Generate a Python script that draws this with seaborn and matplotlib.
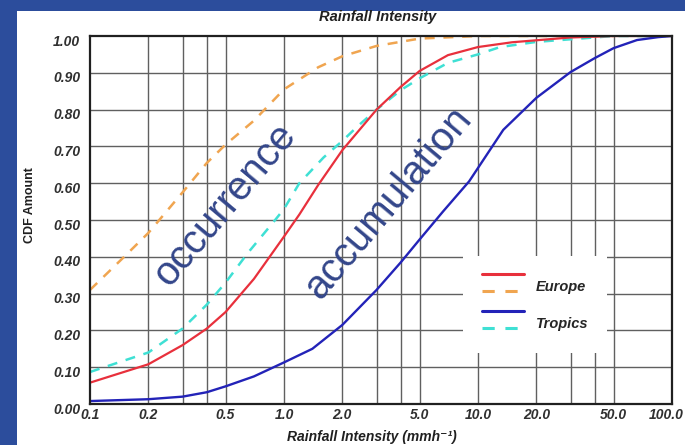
import numpy as np
import pandas as pd
import matplotlib
matplotlib.use("Agg")
import matplotlib.pyplot as plt
import seaborn as sns
from matplotlib.lines import Line2D
from matplotlib.legend_handler import HandlerBase
from matplotlib.patches import Rectangle
from matplotlib.transforms import ScaledTranslation

# ---- data ----
eu_occ_x = [0.1, 0.15, 0.2, 0.3, 0.4, 0.5, 0.7, 1.0, 1.5, 2.0, 3.0, 5.0, 10.0, 50.0]
eu_occ_y = [0.31, 0.40, 0.465, 0.575, 0.655, 0.705, 0.77, 0.855, 0.915, 0.945, 0.973, 0.993, 1.0, 1.0]

eu_acc_x = [0.1, 0.2, 0.3, 0.4, 0.5, 0.7, 1.0, 1.2, 1.5, 2.0, 3.0, 4.0, 5.0, 7.0, 10.0, 15.0, 30.0, 50.0, 100.0]
eu_acc_y = [0.058, 0.108, 0.16, 0.205, 0.25, 0.34, 0.455, 0.515, 0.595, 0.69, 0.80, 0.862, 0.905, 0.948, 0.97, 0.983, 0.996, 1.0, 1.0]

tr_occ_x = [0.1, 0.2, 0.3, 0.4, 0.5, 0.65, 0.9, 1.0, 1.2, 1.6, 2.0, 2.4, 3.0, 4.0, 5.0, 7.0, 10.0, 13.0, 20.0, 50.0, 100.0]
tr_occ_y = [0.087, 0.14, 0.205, 0.27, 0.33, 0.41, 0.50, 0.53, 0.60, 0.67, 0.715, 0.755, 0.80, 0.853, 0.885, 0.927, 0.95, 0.97, 0.984, 1.0, 1.0]

tr_acc_x = [0.1, 0.2, 0.3, 0.4, 0.5, 0.7, 1.0, 1.4, 2.0, 3.0, 4.0, 5.0, 6.6, 9.0, 13.5, 20.0, 30.0, 40.0, 50.0, 66.0, 85.0, 100.0]
tr_acc_y = [0.008, 0.013, 0.02, 0.032, 0.048, 0.075, 0.113, 0.15, 0.215, 0.31, 0.385, 0.447, 0.523, 0.605, 0.745, 0.832, 0.902, 0.94, 0.967, 0.989, 0.997, 1.0]

x_ticks = [0.1, 0.2, 0.5, 1.0, 2.0, 5.0, 10.0, 20.0, 50.0, 100.0]
x_tick_labels = ["0.1", "0.2", "0.5", "1.0", "2.0", "5.0", "10.0", "20.0", "50.0", "100.0"]
x_grid = [0.2, 0.3, 0.4, 0.5, 1, 2, 3, 4, 5, 10, 20, 30, 40, 50]
y_ticks = [0.0, 0.1, 0.2, 0.3, 0.4, 0.5, 0.6, 0.7, 0.8, 0.9, 1.0]
y_tick_labels = ["0.00", "0.10", "0.20", "0.30", "0.40", "0.50", "0.60", "0.70", "0.80", "0.90", "1.00"]

# ---- style ----
sns.set_theme(style="white")
plt.rcParams['font.family'] = ['Liberation Sans', 'DejaVu Sans']

BG_BLUE = "#2c4d9c"
RED = "#e8303c"
ORANGE = "#f0a550"
BLUE = "#2323b8"
CYAN = "#3fe0d4"
TXT_BLUE = "#33468a"

fig = plt.figure(figsize=(6.85, 4.45), dpi=100, facecolor=BG_BLUE)
fig.patches.append(Rectangle((17 / 685, 0), 1, (445 - 11) / 445, transform=fig.transFigure,
                             facecolor="white", edgecolor="none", zorder=-10))
ax = fig.add_axes([90 / 685, (445 - 404) / 445, 582 / 685, (404 - 36) / 445])
ax.set_facecolor("white")
ax.set_xscale("log")

def draw(xs, ys, color, ls, lw):
    df = pd.DataFrame({"x": xs, "y": ys})
    sns.lineplot(data=df, x="x", y="y", ax=ax, color=color, linestyle=ls, linewidth=lw,
                 estimator=None, sort=True, zorder=3)

dash = (0, (4, 3.5))
draw(eu_occ_x, eu_occ_y, ORANGE, dash, 1.8)
draw(tr_occ_x, tr_occ_y, CYAN, dash, 1.8)
draw(eu_acc_x, eu_acc_y, RED, "-", 1.6)
draw(tr_acc_x, tr_acc_y, BLUE, "-", 1.7)

ax.set_xlim(0.1, 100)
ax.set_ylim(0, 1)

# grid
for gx in x_grid:
    ax.axvline(gx, color="#606060", lw=1.0, zorder=1)
for gy in y_ticks[1:-1]:
    ax.axhline(gy, color="#606060", lw=1.0, zorder=1)

ax.set_xticks(x_ticks)
ax.set_xticklabels(x_tick_labels)
ax.xaxis.set_minor_locator(matplotlib.ticker.NullLocator())
ax.set_yticks(y_ticks)
ax.set_yticklabels(y_tick_labels)
ax.tick_params(axis="both", length=0, labelsize=10, labelcolor="#303030")
ax.tick_params(axis="x", pad=3)
ax.tick_params(axis="y", pad=7)
for lbl in ax.get_xticklabels() + ax.get_yticklabels():
    lbl.set_fontweight("bold")
    lbl.set_fontstyle("italic")
for lbl in ax.get_yticklabels():
    lbl.set_transform(lbl.get_transform() + ScaledTranslation(0, -4 / 100, fig.dpi_scale_trans))
last = ax.get_xticklabels()[-1]
last.set_transform(last.get_transform() + ScaledTranslation(-6 / 100, 0, fig.dpi_scale_trans))

for sp in ax.spines.values():
    sp.set_visible(True)
    sp.set_color("#202020")
    sp.set_linewidth(1.6)
    sp.set_zorder(4)

ax.set_xlabel("Rainfall Intensity (mmh⁻¹)", fontsize=10, fontweight="bold", fontstyle="italic",
              color="#202020", va="center")
ax.xaxis.set_label_coords(0.485, -0.09)
ax.set_ylabel("CDF Amount", fontsize=9, fontweight="bold", color="#202020", va="center")
ax.yaxis.set_label_coords(-0.103, 0.54)

ax.text(0.495, 1.052, "Rainfall Intensity", transform=ax.transAxes, ha="center", va="center",
        fontsize=10.5, fontweight="bold", fontstyle="italic", color="#202020")

ax.text(0.232, 0.542, "occurrence", transform=ax.transAxes, rotation=50, rotation_mode="anchor",
        ha="center", va="center", fontsize=29, color=TXT_BLUE, zorder=5)
ax.text(0.512, 0.547, "accumulation", transform=ax.transAxes, rotation=50, rotation_mode="anchor",
        ha="center", va="center", fontsize=29, color=TXT_BLUE, zorder=5)

# legend: each entry shows a solid line above a dashed line
class StackHandler(HandlerBase):
    def create_artists(self, legend, orig_handle, xdescent, ydescent, width, height, fontsize, trans):
        arts = []
        offs = [0.75, -0.75]
        for h, o in zip(orig_handle, offs):
            yc = (height - ydescent) / 2 + o * height / 2
            ln = Line2D([-xdescent, -xdescent + width], [yc, yc], color=h.get_color(),
                        linestyle=h.get_linestyle(), linewidth=h.get_linewidth())
            if h.get_linestyle() != "-":
                ln.set_dashes((4, 3.5))
            ln.set_transform(trans)
            arts.append(ln)
        return arts

h_eu = (Line2D([], [], color=RED, lw=2.2), Line2D([], [], color=ORANGE, lw=2.2, ls="--"))
h_tr = (Line2D([], [], color=BLUE, lw=2.2), Line2D([], [], color=CYAN, lw=2.2, ls="--"))
leg = ax.legend([h_eu, h_tr], ["Europe", "Tropics"], handler_map={tuple: StackHandler()},
                loc="center", bbox_to_anchor=(0.765, 0.27), frameon=True, fancybox=False,
                framealpha=1.0, edgecolor="none", facecolor="white", handlelength=2.9,
                handleheight=2.0, labelspacing=1.0, borderpad=1.3, handletextpad=0.8,
                borderaxespad=0, prop={"weight": "bold", "style": "italic", "size": 10.5})
leg.set_zorder(6)

fig.savefig("out.png", dpi=100, facecolor=BG_BLUE)
